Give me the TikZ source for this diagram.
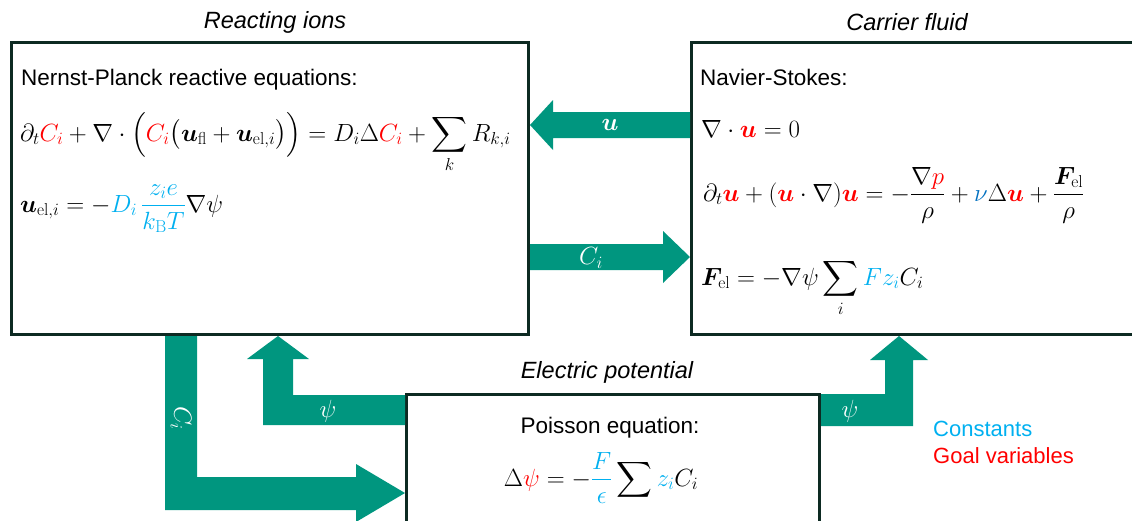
\documentclass[tikz,border=0pt]{standalone}
\usepackage{amsmath}
\usepackage{bm}
\usepackage[no-math]{fontspec}
\setmainfont{Liberation Sans}
\usetikzlibrary{calc}
\definecolor{teal}{HTML}{00967F}
\definecolor{boxline}{HTML}{0D2A22}
\definecolor{cyanc}{HTML}{00B0F0}
\definecolor{redc}{HTML}{FF0000}
\definecolor{nuc}{HTML}{0070C0}
\newcommand{\rd}[1]{{\color{redc}#1}}
\newcommand{\cy}[1]{{\color{cyanc}#1}}
\newcommand{\nb}[1]{{\color{nuc}#1}}
\begin{document}
\begin{tikzpicture}[x=1pt,y=-1pt,
  every node/.style={font=\fontsize{22.5}{27}\selectfont, inner sep=0pt},
  box/.style={draw=boxline, line width=3pt, fill=white, inner sep=0pt, anchor=north west},
  title/.style={font=\fontsize{23.5}{28}\selectfont\itshape},
  txt/.style={anchor=base west},
  legend/.style={anchor=base west, font=\fontsize{22}{26}\selectfont},
  eq/.style={anchor=base west, font=\fontsize{26}{30}\selectfont},
  blockarrow/.style={fill=teal, draw=none},
  alabel/.style={text=white, font=\fontsize{25}{30}\selectfont}]
\useasboundingbox (0,0) rectangle (1132,520);
% boxes
\node[box, minimum width=517pt, minimum height=292pt] (ions) at (10,41) {};
\node[box, minimum width=445pt, minimum height=292pt] (fluid) at (690,41) {};
\node[box, minimum width=413pt, minimum height=150pt] (pois) at (405,393) {};
% titles
\node[title] (t1) at (275,22) {Reacting ions};
\node[title] (t2) at (907,22) {Carrier fluid};
\node[title] (t3) at (607,372) {Electric potential};
% left box content
\node[txt] (np) at (21,85) {Nernst-Planck reactive equations:};
\node[eq] (np1) at (20,141) {$\partial_t \rd{C_i} + \nabla\cdot\Big(\rd{C_i}\big(\bm{u}_{\mathrm{fl}} + \bm{u}_{\mathrm{el},i}\big)\Big) = D_i \Delta \rd{C_i} + \displaystyle\sum_k R_{k,i}$};
\node[eq] (np2) at (20,212) {$\bm{u}_{\mathrm{el},i} = -\cy{D_i}\,\cy{\dfrac{z_i e}{k_{\mathrm{B}} T}}\nabla\psi$};
% right box content
\node[txt] (ns) at (700,85) {Navier-Stokes:};
\node[eq] (ns1) at (701,137) {$\nabla\cdot\rd{\bm{u}} = 0$};
\node[eq] (ns2) at (703,201) {$\partial_t \rd{\bm{u}} + (\rd{\bm{u}}\cdot\nabla)\rd{\bm{u}} = -\dfrac{\nabla \rd{p}}{\rho} + \nb{\nu}\Delta\rd{\bm{u}} + \dfrac{\bm{F}_{\mathrm{el}}}{\rho}$};
\node[eq] (ns3) at (701,285) {$\bm{F}_{\mathrm{el}} = -\nabla\psi \displaystyle\sum_i \cy{F z_i} C_i$};
% bottom box content
\node[anchor=base] (pe) at (610,433) {Poisson equation:};
\node[anchor=base, font=\fontsize{23.5}{28}\selectfont] (pe1) at (601,486) {$\Delta\rd{\psi} = -\cy{\dfrac{F}{\epsilon}}\displaystyle\sum \cy{z_i} C_i$};
% legend
\node[legend, text=cyanc] (lc) at (933,436) {Constants};
\node[legend, text=redc] (lg) at (933,463) {Goal variables};
% arrows
\fill[blockarrow] (fluid.west |- 0,112) -- (553,112) -- (553,100) -- (ions.east |- 0,125) -- (553,150) -- (553,138) -- (fluid.west |- 0,138) -- cycle;
\node[alabel] (lu) at (610,125) {$\bm{u}$};
\fill[blockarrow] (ions.east |- 0,244) -- (663,244) -- (663,231) -- (fluid.west |- 0,257) -- (663,283) -- (663,270) -- (ions.east |- 0,270) -- cycle;
\node[alabel] (lc1) at (591,258) {$C_i$};
\fill[blockarrow] (165,0 |- ions.south) -- (165,510) -- (356,510) -- (356,522) -- (pois.west |- 0,493) -- (356,464) -- (356,477) -- (197,477) -- (197,0 |- ions.south) -- cycle;
\node[alabel, rotate=-90] (lc2) at (181,418) {$C_i$};
\fill[blockarrow] (pois.west |- 0,425) -- (263,425) -- (263,359) -- (247,359) -- (278,0 |- ions.south) -- (309,359) -- (293,359) -- (293,395) -- (pois.west |- 0,395) -- cycle;
\node[alabel] (lp1) at (328,411) {$\psi$};
\fill[blockarrow] (pois.east |- 0,426) -- (913,426) -- (913,360) -- (928,360) -- (899,0 |- fluid.south) -- (870,360) -- (885,360) -- (885,394) -- (pois.east |- 0,394) -- cycle;
\node[alabel] (lp2) at (850,411) {$\psi$};
\end{tikzpicture}
\end{document}
